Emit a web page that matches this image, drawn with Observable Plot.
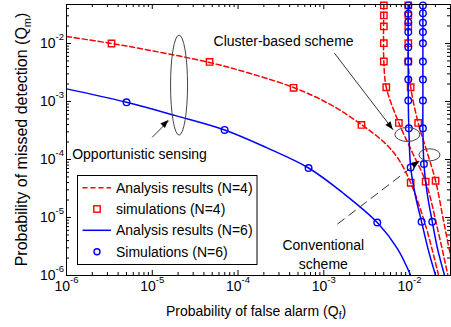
<!DOCTYPE html>
<html><head><meta charset="utf-8">
<script src="https://cdn.jsdelivr.net/npm/d3@7"></script>
<script src="https://cdn.jsdelivr.net/npm/@observablehq/plot@0.6"></script>
<style>
html,body{margin:0;padding:0;background:#fff;}
#chart svg{display:block;}
</style></head><body><div id="chart"></div>
<script>
const FONT = "'Liberation Sans', Arial, Helvetica, sans-serif";

// ---- axis ticks ----
const xDecades = [1e-6, 1e-5, 1e-4, 1e-3, 1e-2];
const xExponents = ["-6", "-5", "-4", "-3", "-2"];
const yDecades = [1e-6, 1e-5, 1e-4, 1e-3, 1e-2];
const yExponents = ["-6", "-5", "-4", "-3", "-2"];
const minorMultipliers = [2, 3, 4, 5, 6, 7, 8, 9];
const xDomain = [1e-6, 0.03];
const yDomain = [1e-6, 0.047];

// ---- Opportunistic sensing ----
const oppN4_qf = [1e-6, 3.35e-6, 9.6e-6, 4.66e-5, 1.40e-4, 4.44e-4, 1.20e-3, 2.75e-3, 5.0e-3, 7.24e-3, 1.03e-2, 1.54e-2, 2.18e-2];
const oppN4_qm = [1.32e-2, 1.0e-2, 7.57e-3, 4.70e-3, 3.03e-3, 1.74e-3, 8.83e-4, 3.99e-4, 2.0e-4, 1.07e-4, 3.97e-5, 7.2e-6, 1e-6];
const oppN4Sim_qf = [3.35e-6, 4.66e-5, 4.44e-4, 2.75e-3, 1.03e-2];
const oppN4Sim_qm = [1.0e-2, 4.8e-3, 1.72e-3, 3.94e-4, 3.97e-5];

const oppN6_qf = [1e-6, 5.01e-6, 1.87e-5, 6.97e-5, 2.15e-4, 6.64e-4, 1.66e-3, 4.20e-3, 7.24e-3, 1.03e-2];
const oppN6_qm = [1.65e-3, 9.68e-4, 5.70e-4, 3.23e-4, 1.60e-4, 7.13e-5, 2.67e-5, 8.2e-6, 2.88e-6, 1e-6];
const oppN6Sim_qf = [5.01e-6, 6.97e-5, 6.64e-4, 4.20e-3];
const oppN6Sim_qm = [9.68e-4, 3.23e-4, 7.13e-5, 8.2e-6];

// ---- Cluster-based scheme ----
const cluN4_qf = [5.01e-3, 5.01e-3, 5.35e-3, 7.50e-3, 1.08e-2, 1.54e-2, 2.12e-2, 2.80e-2];
const cluN4_qm = [0.047, 4.89e-3, 1.76e-3, 4.27e-4, 1.31e-4, 4.14e-5, 6.38e-6, 1e-6];
const cluN4Sim_qf = [5.01e-3, 5.01e-3, 5.01e-3, 5.01e-3, 5.01e-3, 5.35e-3, 7.50e-3, 1.54e-2];
const cluN4Sim_qm = [4.53e-2, 3.05e-2, 1.97e-2, 1.01e-2, 4.89e-3, 1.76e-3, 4.27e-4, 4.14e-5];

const cluN6_qf = [9.66e-3, 9.66e-3, 9.80e-3, 1.03e-2, 1.17e-2, 1.38e-2, 1.64e-2, 2.01e-2];
const cluN6_qm = [0.047, 1.04e-3, 3.45e-4, 7.31e-5, 2.37e-5, 8.43e-6, 2.88e-6, 1e-6];
const cluN6Sim_qf = [9.66e-3, 9.66e-3, 9.66e-3, 9.66e-3, 9.66e-3, 9.66e-3, 9.66e-3, 9.66e-3, 9.80e-3, 1.03e-2, 1.38e-2];
const cluN6Sim_qm = [4.53e-2, 3.26e-2, 2.33e-2, 1.57e-2, 8.63e-3, 4.89e-3, 2.39e-3, 1.04e-3, 3.45e-4, 7.31e-5, 8.43e-6];

// ---- Conventional scheme ----
const conN4_qf = [9.66e-3, 9.66e-3, 1.03e-2, 1.26e-2, 1.58e-2, 2.01e-2, 2.49e-2, 3.01e-2, 3.44e-2];
const conN4_qm = [0.047, 4.89e-3, 1.76e-3, 4.27e-4, 1.42e-4, 4.30e-5, 8.77e-6, 2.18e-6, 1e-6];
const conN4Sim_qf = [9.66e-3, 9.66e-3, 9.66e-3, 9.66e-3, 9.66e-3, 1.03e-2, 1.26e-2, 2.01e-2];
const conN4Sim_qm = [4.53e-2, 3.05e-2, 1.97e-2, 1.01e-2, 4.89e-3, 1.76e-3, 4.27e-4, 4.30e-5];

const conN6_qf = [1.43e-2, 1.43e-2, 1.43e-2, 1.47e-2, 1.62e-2, 1.84e-2, 2.12e-2, 2.56e-2];
const conN6_qm = [0.047, 1.04e-3, 3.45e-4, 8.36e-5, 2.37e-5, 8.43e-6, 2.88e-6, 1e-6];
const conN6Sim_qf = [1.43e-2, 1.43e-2, 1.43e-2, 1.43e-2, 1.43e-2, 1.43e-2, 1.43e-2, 1.43e-2, 1.43e-2, 1.47e-2, 1.84e-2];
const conN6Sim_qm = [4.53e-2, 3.33e-2, 2.28e-2, 1.57e-2, 1.01e-2, 4.89e-3, 2.39e-3, 1.04e-3, 3.45e-4, 8.36e-5, 8.43e-6];

// ---- annotations ----
const noteLeftText = ["Opportunistic sensing", "Cluster-based scheme"];
const noteLeftQf = [1.165e-6, 5.18e-5];
const noteLeftQm = [1.24e-4, 1.10e-2];
const noteMidText = ["Conventional", "scheme"];
const noteMidQf = [9.87e-4, 9.87e-4];
const noteMidQm = [3.25e-6, 1.57e-6];

const ellipseQf = [2.08e-5, 9.55e-3, 1.73e-2];
const ellipseQm = [1.88e-3, 2.65e-4, 1.18e-4];

// solid arrows: opportunistic, cluster-based; dashed arrow: conventional
const arrowFromQf = [9.97e-6, 1.33e-3, 1.44e-3];
const arrowFromQm = [2.41e-4, 6.80e-3, 7.69e-6];
const arrowToQf = [1.56e-5, 6.46e-3, 1.31e-2];
const arrowToQm = [4.68e-4, 3.23e-4, 9.35e-5];

const legendLabels = ["Analysis results (N=4)", "simulations (N=4)", "Analysis results (N=6)", "Simulations (N=6)"];

// ---- styles ----
const RED = "#ff0000", BLUE = "#0000ff";
const ellipseRadii = [[8.5, 50], [12.5, 7], [10.5, 6]];

// helpers
const rows = (qf, qm) => qf.map((x, i) => ({qf: x, qm: qm[i]}));
const minors = (dom) => xDecades.concat([1e-1]).flatMap(d => minorMultipliers.map(m => d * m)).filter(v => v > dom[0] && v < dom[1]);
const xMinor = minors(xDomain);
const yMinor = minors(yDomain);
const arrows = arrowFromQf.map((x, i) => ({x1: x, y1: arrowFromQm[i], x2: arrowToQf[i], y2: arrowToQm[i]}));

const W = 451, H = 327, ML = 66, MR = 1, MT = 4, MB = 52;
const IW = W - ML - MR, IH = H - MT - MB;

const redLine = (qf, qm) => Plot.line(rows(qf, qm), {x: "qf", y: "qm", stroke: RED, strokeWidth: 1.5, strokeDasharray: "5,3", curve: "catmull-rom", clip: true});
const blueLine = (qf, qm) => Plot.line(rows(qf, qm), {x: "qf", y: "qm", stroke: BLUE, strokeWidth: 1.5, curve: "catmull-rom", clip: true});
const redSq = (qf, qm) => Plot.dot(rows(qf, qm), {x: "qf", y: "qm", symbol: "square", r: 3.6, stroke: RED, strokeWidth: 1.4, fill: "none"});
const blueCi = (qf, qm) => Plot.dot(rows(qf, qm), {x: "qf", y: "qm", r: 3.3, stroke: BLUE, strokeWidth: 1.4, fill: "none"});

const chart = Plot.plot({
  width: W, height: H,
  marginLeft: ML, marginRight: MR, marginTop: MT, marginBottom: MB,
  x: {type: "log", domain: xDomain, axis: null},
  y: {type: "log", domain: yDomain, axis: null},
  style: {fontFamily: FONT, background: "#fff", color: "#000", overflow: "visible"},
  marks: [
    // ticks (inside, on all four sides)
    Plot.tickX(xDecades, {x: d => d, insetTop: IH - 5, stroke: "#000"}),
    Plot.tickX(xDecades, {x: d => d, insetBottom: IH - 5, stroke: "#000"}),
    Plot.tickX(xMinor, {x: d => d, insetTop: IH - 3, stroke: "#000"}),
    Plot.tickX(xMinor, {x: d => d, insetBottom: IH - 3, stroke: "#000"}),
    Plot.tickY(yDecades, {y: d => d, insetRight: IW - 5, stroke: "#000"}),
    Plot.tickY(yDecades, {y: d => d, insetLeft: IW - 5, stroke: "#000"}),
    Plot.tickY(yMinor, {y: d => d, insetRight: IW - 3, stroke: "#000"}),
    Plot.tickY(yMinor, {y: d => d, insetLeft: IW - 3, stroke: "#000"}),
    // tick labels
    Plot.text(xDecades, {x: d => d, frameAnchor: "bottom", text: () => "10", dy: 15.5, dx: 3.5, textAnchor: "end", fontSize: 14, fill: "#000"}),
    Plot.text(xDecades, {x: d => d, frameAnchor: "bottom", text: (d, i) => xExponents[i], dy: 7, dx: 3.5, textAnchor: "start", fontSize: 9.5, fill: "#000"}),
    Plot.text(yDecades, {y: d => d, frameAnchor: "left", text: () => "10", dx: -11, textAnchor: "end", fontSize: 14, fill: "#000"}),
    Plot.text(yDecades, {y: d => d, frameAnchor: "left", text: (d, i) => yExponents[i], dx: -11, dy: -7, textAnchor: "start", fontSize: 9.5, fill: "#000"}),
    // curves
    redLine(oppN4_qf, oppN4_qm),
    redLine(cluN4_qf, cluN4_qm),
    redLine(conN4_qf, conN4_qm),
    redSq(oppN4Sim_qf, oppN4Sim_qm),
    redSq(cluN4Sim_qf, cluN4Sim_qm),
    redSq(conN4Sim_qf, conN4Sim_qm),
    blueLine(oppN6_qf, oppN6_qm),
    blueLine(cluN6_qf, cluN6_qm),
    blueLine(conN6_qf, conN6_qm),
    blueCi(oppN6Sim_qf, oppN6Sim_qm),
    blueCi(cluN6Sim_qf, cluN6Sim_qm),
    blueCi(conN6Sim_qf, conN6Sim_qm),
    // annotation arrow shafts
    Plot.link(arrows.slice(0, 2), {x1: "x1", y1: "y1", x2: "x2", y2: "y2", stroke: "#333", strokeWidth: 1}),
    Plot.link(arrows.slice(2), {x1: "x1", y1: "y1", x2: "x2", y2: "y2", stroke: "#333", strokeWidth: 1, strokeDasharray: "9,5"}),
    // annotation texts
    Plot.text(noteLeftText, {x: (d, i) => noteLeftQf[i], y: (d, i) => noteLeftQm[i], text: d => d, textAnchor: "start", fontSize: 14, fill: "#000"}),
    Plot.text(noteMidText, {x: (d, i) => noteMidQf[i], y: (d, i) => noteMidQm[i], text: d => d, textAnchor: "middle", fontSize: 14, fill: "#000"}),
    Plot.frame({stroke: "#000", strokeWidth: 1})
  ]
});

document.getElementById("chart").appendChild(chart);

// ---- extras drawn with the chart's own scales ----
const sxs = chart.scale("x"), sys = chart.scale("y");
const fx = sxs.apply ? (v => sxs.apply(v)) : d3.scaleLog(sxs.domain, sxs.range);
const fy = sys.apply ? (v => sys.apply(v)) : d3.scaleLog(sys.domain, sys.range);
const svg = d3.select(chart);

const ann = svg.append("g");
ellipseQf.forEach((q, i) => {
  ann.append("ellipse")
    .attr("cx", fx(q)).attr("cy", fy(ellipseQm[i]))
    .attr("rx", ellipseRadii[i][0]).attr("ry", ellipseRadii[i][1])
    .attr("fill", "none").attr("stroke", "#444").attr("stroke-width", 1);
});
arrows.forEach(a => {
  const x1 = fx(a.x1), y1 = fy(a.y1), x2 = fx(a.x2), y2 = fy(a.y2);
  const L = Math.hypot(x2 - x1, y2 - y1), ux = (x2 - x1) / L, uy = (y2 - y1) / L;
  const hl = 8, hw = 3.2;
  const bx = x2 - ux * hl, by = y2 - uy * hl;
  ann.append("path")
    .attr("d", `M${x2},${y2}L${bx - uy * hw},${by + ux * hw}L${bx + uy * hw},${by - ux * hw}Z`)
    .attr("fill", "#000");
});

// axis titles
svg.append("text")
  .attr("x", (ML + W - MR) / 2 - 2).attr("y", 316)
  .attr("text-anchor", "middle").attr("font-size", 14).attr("font-family", FONT).attr("fill", "#000")
  .call(t => {
    t.append("tspan").text("Probability of false alarm (Q");
    t.append("tspan").attr("font-size", 10).attr("dy", 3).text("f");
    t.append("tspan").attr("dy", -3).text(")");
  });
svg.append("text")
  .attr("transform", `translate(27,${(MT + H - MB) / 2}) rotate(-90)`)
  .attr("text-anchor", "middle").attr("font-size", 16).attr("font-family", FONT).attr("fill", "#000")
  .call(t => {
    t.append("tspan").text("Probability of missed detection (Q");
    t.append("tspan").attr("font-size", 11).attr("dy", 4).text("m");
    t.append("tspan").attr("dy", -4).text(")");
  });

// legend
const lg = svg.append("g").attr("font-family", FONT).attr("font-size", 14).attr("text-anchor", "start");
lg.append("rect").attr("x", 77.5).attr("y", 175.5).attr("width", 179.5).attr("height", 89)
  .attr("fill", "#fff").attr("stroke", "#000").attr("stroke-width", 1);
const rowY = [187.7, 209, 230.3, 251.7];
legendLabels.forEach((lab, i) => {
  const y = rowY[i];
  if (i === 0) lg.append("line").attr("x1", 82.5).attr("x2", 111).attr("y1", y).attr("y2", y).attr("stroke", RED).attr("stroke-width", 1.5).attr("stroke-dasharray", "5,3");
  if (i === 1) lg.append("rect").attr("x", 97 - 3.2).attr("y", y - 3.2).attr("width", 6.4).attr("height", 6.4).attr("fill", "none").attr("stroke", RED).attr("stroke-width", 1.4);
  if (i === 2) lg.append("line").attr("x1", 82.5).attr("x2", 111).attr("y1", y).attr("y2", y).attr("stroke", BLUE).attr("stroke-width", 1.5);
  if (i === 3) lg.append("circle").attr("cx", 97).attr("cy", y).attr("r", 3).attr("fill", "none").attr("stroke", BLUE).attr("stroke-width", 1.4);
  lg.append("text").attr("x", 116).attr("y", y).attr("dy", "0.35em").attr("text-anchor", "start").attr("fill", "#000").text(lab);
});
</script></body></html>
